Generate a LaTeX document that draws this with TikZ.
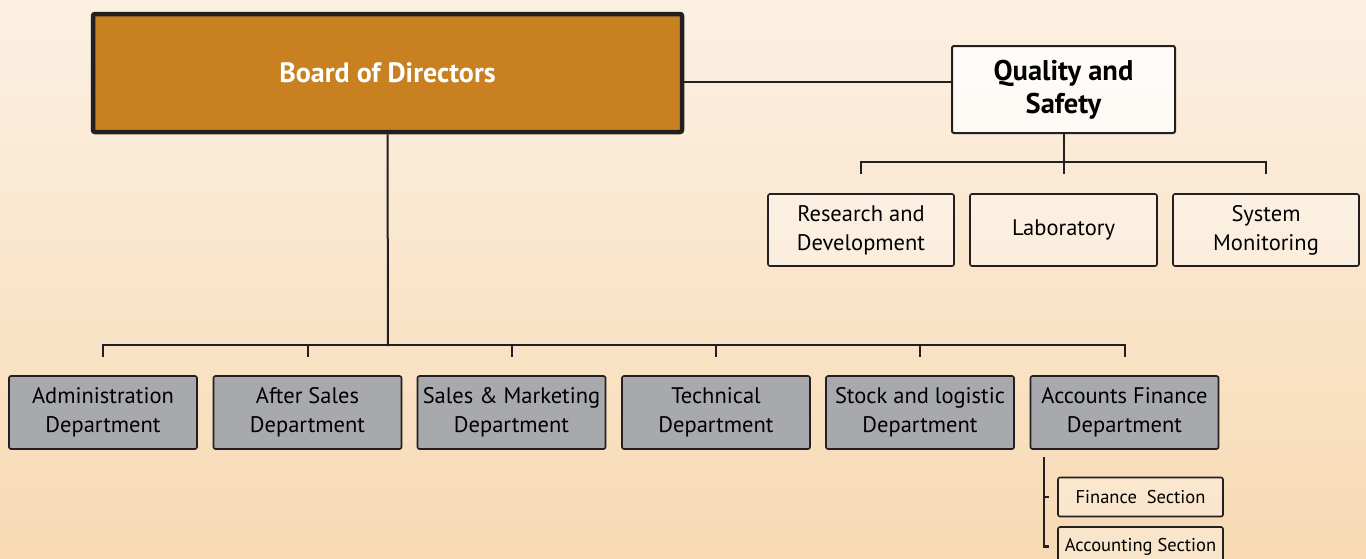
\documentclass[tikz,border=0pt]{standalone}
\usepackage{fontspec}
\setmainfont{PT Sans}
\definecolor{boardfill}{HTML}{C88020}
\definecolor{deptgray}{HTML}{A7A9AC}
\definecolor{bgtop}{HTML}{FCF0E3}
\definecolor{bgbottom}{HTML}{F7DAB3}
\definecolor{inkline}{HTML}{231F20}
\tikzset{
  board/.style={draw=inkline,line width=4.5pt,fill=boardfill,rounded corners=2pt,
    minimum width=589pt,minimum height=118pt,text=white,
    font=\fontsize{28}{32}\selectfont\bfseries},
  quality/.style={draw=inkline,line width=2pt,fill=white,fill opacity=.8,text opacity=1,
    rounded corners=2pt,minimum width=223pt,minimum height=87pt,align=center,inner sep=1pt,
    font=\fontsize{28.5}{33}\selectfont\bfseries},
  qsub/.style={draw=inkline,line width=1.6pt,fill=white,fill opacity=.35,text opacity=1,
    rounded corners=2pt,minimum width=186pt,minimum height=72pt,align=center,inner sep=1pt,
    font=\fontsize{22.5}{29}\selectfont},
  dept/.style={draw=inkline,line width=1.6pt,fill=deptgray,rounded corners=2pt,
    minimum width=188pt,minimum height=73pt,align=center,inner sep=1pt,
    font=\fontsize{22.5}{29}\selectfont},
  section/.style={draw=inkline,line width=1.6pt,fill=white,fill opacity=.3,text opacity=1,
    rounded corners=2pt,minimum width=165pt,minimum height=39pt,inner sep=1pt,
    font=\fontsize{18.5}{22}\selectfont},
  link/.style={draw=inkline,line width=2pt}
}
\begin{document}
\begin{tikzpicture}[line cap=butt,line join=miter,x=1pt,y=-1pt]
  \useasboundingbox (0,0) rectangle (1366,558);
  \fill[top color=bgtop,bottom color=bgbottom] (0,0) rectangle (1366,558);
  % top level
  \node[board] (board) at (387.5,73) {Board of Directors};
  \node[quality] (quality) at (1063.5,89.5) {Quality and\\Safety};
  % quality units
  \node[qsub] (research) at (861,230) {Research and\\Development};
  \node[qsub,minimum width=187pt] (lab) at (1063.5,230) {Laboratory};
  \node[qsub] (sysmon) at (1266,230) {System\\Monitoring};
  % departments
  \node[dept] (admin) at (103,412.5) {Administration\\Department};
  \node[dept] (after) at (307.5,412.5) {After Sales\\Department};
  \node[dept] (sales) at (511.5,412.5) {Sales \& Marketing\\Department};
  \node[dept] (tech) at (716,412.5) {Technical\\Department};
  \node[dept] (stock) at (920,412.5) {Stock and logistic\\Department};
  \node[dept] (accounts) at (1124.5,412.5) {Accounts Finance\\Department};
  % sections
  \node[section] (finsec) at (1140.5,497) {Finance\ \ Section};
  \node[section] (accsec) at (1140.5,546.5) {Accounting Section};
  \coordinate (qlink) at (952,82);
  \coordinate (deptbar) at (388,346);
  \coordinate (subtop) at (1044,457);
  % connectors
  \draw[link] (board.east |- qlink) -- (qlink);
  \draw[link] (board.south) -- (deptbar);
  \draw[link] ([yshift=18pt]admin.north) -- ([yshift=30pt]admin.north)
    -- ([yshift=30pt]accounts.north) -- ([yshift=18pt]accounts.north);
  \foreach \d in {after,sales,tech,stock}
    \draw[link] ([yshift=30pt]\d.north) -- ([yshift=18pt]\d.north);
  \draw[link] (quality.south) -- ([yshift=31pt]lab.north) -- ([yshift=19pt]lab.north);
  \draw[link] ([yshift=19pt]research.north) -- ([yshift=31pt]research.north)
    -- ([yshift=31pt]sysmon.north) -- ([yshift=19pt]sysmon.north);
  \draw[link,line width=2.6pt] (subtop) |- ([xshift=-8pt]accsec.west);
  \draw[link,line width=2.6pt] (subtop |- finsec.west) -- ([xshift=-8pt]finsec.west);
\end{tikzpicture}
\end{document}
